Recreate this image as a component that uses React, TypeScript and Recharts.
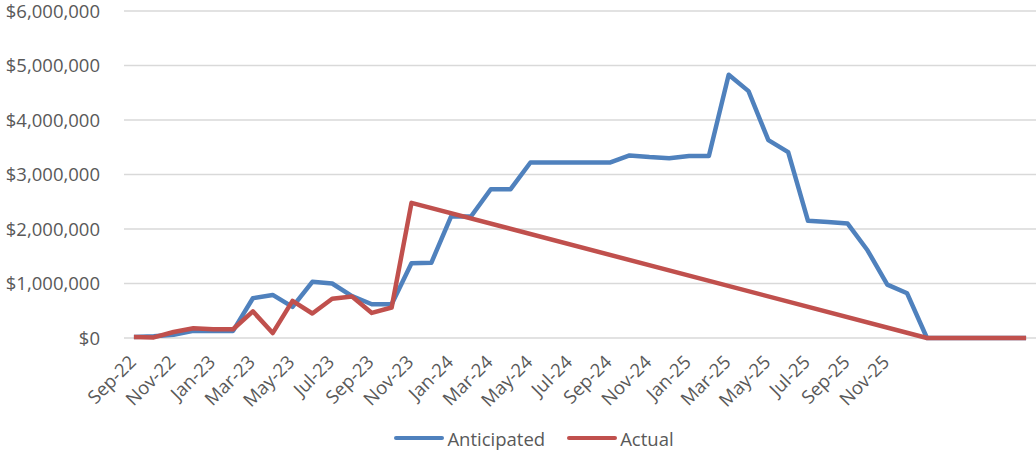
import { LineChart, Line, XAxis, YAxis, CartesianGrid, Legend } from "recharts";

const categories = [
  "Sep-22", "Oct-22", "Nov-22", "Dec-22", "Jan-23", "Feb-23", "Mar-23", "Apr-23",
  "May-23", "Jun-23", "Jul-23", "Aug-23", "Sep-23", "Oct-23", "Nov-23", "Dec-23",
  "Jan-24", "Feb-24", "Mar-24", "Apr-24", "May-24", "Jun-24", "Jul-24", "Aug-24",
  "Sep-24", "Oct-24", "Nov-24", "Dec-24", "Jan-25", "Feb-25", "Mar-25", "Apr-25",
  "May-25", "Jun-25", "Jul-25", "Aug-25", "Sep-25", "Oct-25", "Nov-25",
  "", "", "", "", "", "", "",
];

const anticipated = [
  20000, 30000, 60000, 130000, 130000, 130000, 730000, 790000,
  570000, 1030000, 1000000, 770000, 620000, 620000, 1370000, 1380000,
  2230000, 2230000, 2730000, 2730000, 3220000, 3220000, 3220000, 3220000,
  3220000, 3350000, 3320000, 3300000, 3340000, 3340000, 4830000, 4530000,
  3630000, 3410000, 2150000, 2130000, 2100000, 1610000, 980000, 820000,
  0, 0, 0, 0, 0, 0,
];

const actual: (number | null)[] = [
  20000, 10000, 110000, 180000, 160000, 160000, 490000, 90000,
  680000, 450000, 720000, 760000, 460000, 560000, 2480000, null,
  null, null, null, null, null, null, null, null,
  null, null, null, null, null, null, null, null,
  null, null, null, null, null, null, null, null,
  0, 0, 0, 0, 0, 0,
];

const yTicks = [0, 1000000, 2000000, 3000000, 4000000, 5000000, 6000000];

const series = [
  { key: "anticipated", name: "Anticipated", color: "#4F81BD" },
  { key: "actual", name: "Actual", color: "#C0504D" },
];

const data = categories.map((name, i) => ({
  i,
  name,
  anticipated: anticipated[i],
  actual: actual[i],
}));

const labelTicks = categories.map((_, i) => i).filter((i) => i % 2 === 0);
const boundaryTicks = [...categories.map((_, i) => i - 0.5), categories.length - 0.5];
const xDomain = [-0.5, categories.length - 0.5];

const font = "'Open Sans', sans-serif";
const textColor = "#595959";
const lineGray = "#D9D9D9";

const renderLegend = () => (
  <div
    style={{
      display: "flex",
      justifyContent: "center",
      alignItems: "center",
      height: 24,
      paddingLeft: 32,
      fontFamily: font,
      fontSize: 18.5,
      color: textColor,
    }}
  >
    {series.map((s, idx) => (
      <div
        key={s.key}
        style={{ display: "flex", alignItems: "center", marginRight: idx < series.length - 1 ? 22 : 0 }}
      >
        <span
          style={{ display: "inline-block", width: 50, height: 4.5, background: s.color, borderRadius: 2, marginRight: 3 }}
        />
        <span>{s.name}</span>
      </div>
    ))}
  </div>
);

export default function App() {
  return (
    <div style={{ position: "absolute", left: 0, top: 0, background: "#fff" }}>
      <LineChart width={1036} height={450} data={data} margin={{ top: 11, right: 0, bottom: 0, left: 0 }}>
        <CartesianGrid xAxisId="cats" vertical={false} stroke={lineGray} strokeWidth={1.3} />
        <XAxis
          xAxisId="grid"
          dataKey="i"
          type="number"
          domain={xDomain}
          ticks={boundaryTicks}
          interval={0}
          height={0}
          tick={false}
          tickSize={6}
          tickLine={{ stroke: lineGray, strokeWidth: 1.3 }}
          axisLine={{ stroke: lineGray, strokeWidth: 1.3 }}
        />
        <XAxis
          xAxisId="cats"
          dataKey="i"
          type="number"
          domain={xDomain}
          ticks={labelTicks}
          interval={0}
          height={88}
          tickFormatter={(v: number) => categories[v]}
          tickLine={false}
          axisLine={false}
          tickMargin={10}
          angle={-45}
          textAnchor="end"
          tick={{ fill: textColor, fontSize: 18.5, fontFamily: font, dx: -6 }}
        />
        <YAxis
          domain={[0, 6000000]}
          ticks={yTicks}
          interval={0}
          width={124}
          axisLine={false}
          tickLine={false}
          tickMargin={18}
          tickFormatter={(v: number) => "$" + v.toLocaleString("en-US")}
          tick={{ fill: textColor, fontSize: 18.5, fontFamily: font }}
        />
        <Legend verticalAlign="bottom" content={renderLegend} />
        {series.map((s) => (
          <Line
            key={s.key}
            xAxisId="cats"
            type="linear"
            dataKey={s.key}
            name={s.name}
            stroke={s.color}
            strokeWidth={4.5}
            strokeLinejoin="round"
            dot={false}
            activeDot={false}
            connectNulls
            isAnimationActive={false}
          />
        ))}
      </LineChart>
    </div>
  );
}
